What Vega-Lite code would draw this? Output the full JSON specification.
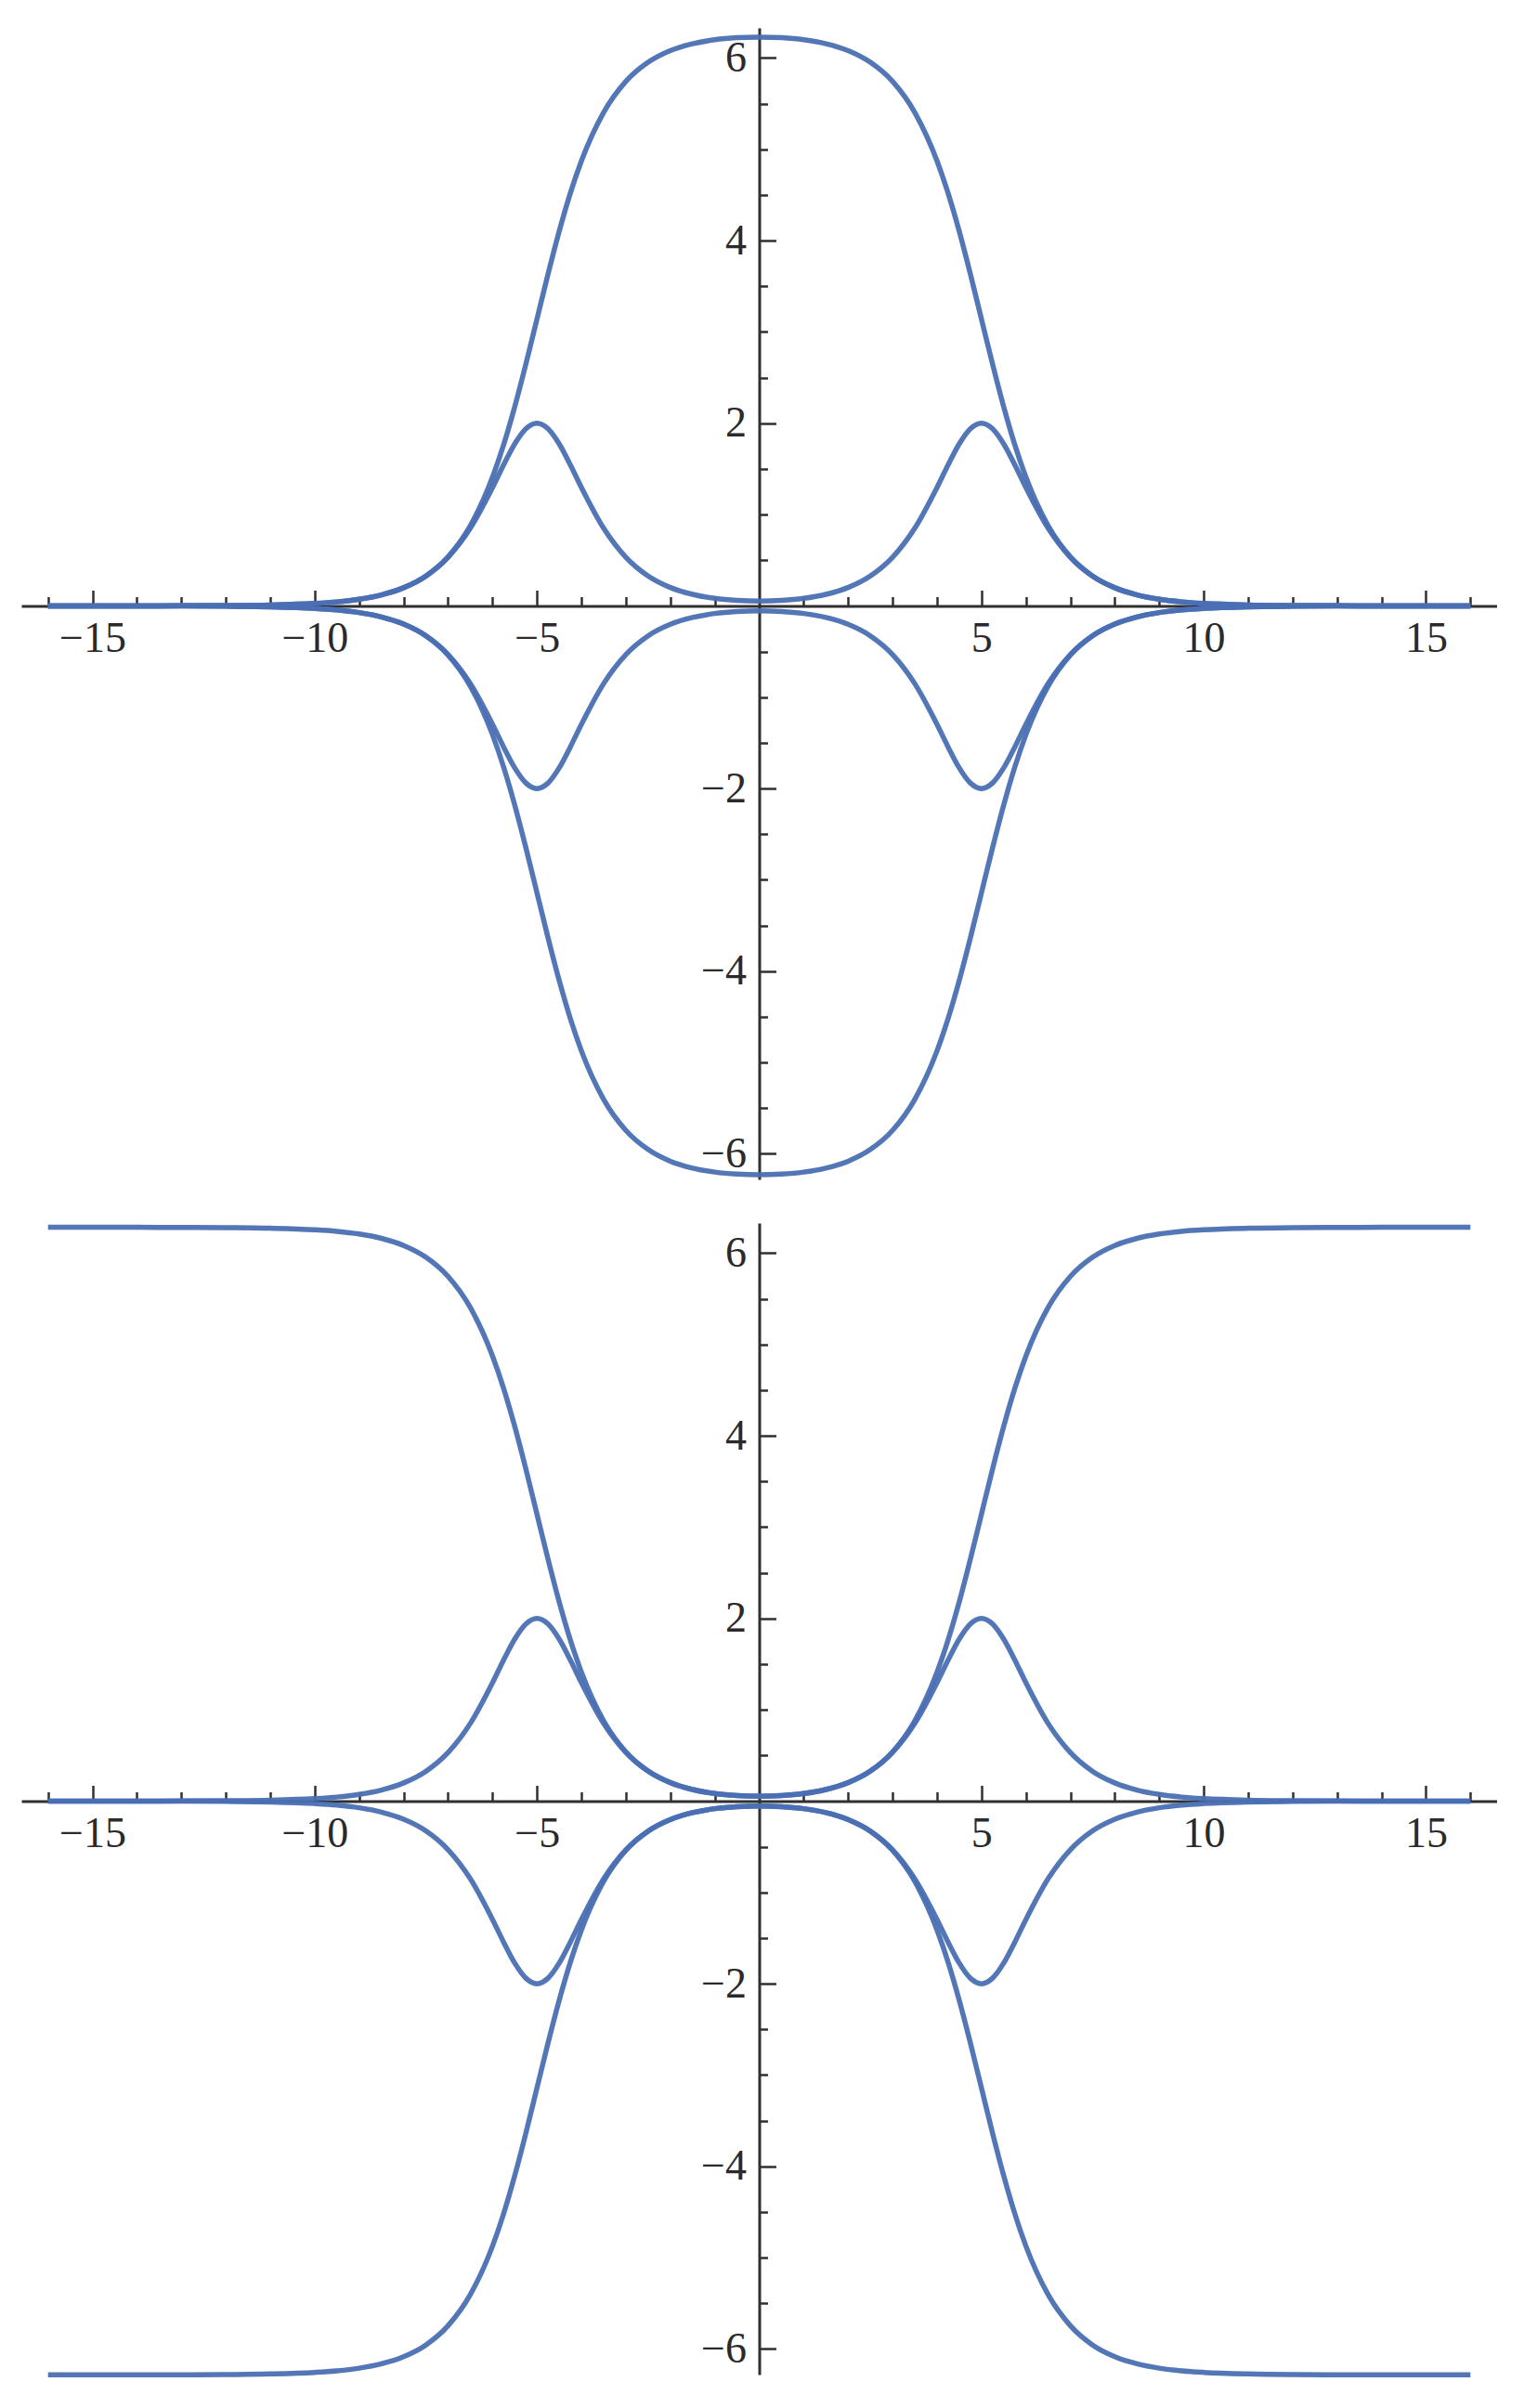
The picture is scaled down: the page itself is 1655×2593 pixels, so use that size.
{
  "$schema": "https://vega.github.io/schema/vega-lite/v6.json",
  "padding": {"left": 23, "top": 28, "right": 0, "bottom": 0},
  "background": "white",
  "spacing": 34,
  "config": {
    "view": {"stroke": null},
    "axis": {
      "grid": false,
      "title": null,
      "domainColor": "#303030",
      "tickColor": "#303030",
      "domainWidth": 3,
      "tickWidth": 2.5,
      "labelFont": "Liberation Serif",
      "labelFontSize": 46,
      "labelColor": "#2a2a2a",
      "labelFlush": false,
      "labelOverlap": false
    }
  },
  "datasets": {
    "top": [
      {"x": -16, "k": 0.0001, "nk": -0.0001, "b": 0.0001, "nb": -0.0001},
      {"x": -15, "k": 0.0002, "nk": -0.0002, "b": 0.0002, "nb": -0.0002},
      {"x": -14, "k": 0.0005, "nk": -0.0005, "b": 0.0005, "nb": -0.0005},
      {"x": -13, "k": 0.001, "nk": -0.001, "b": 0.001, "nb": -0.001},
      {"x": -12, "k": 0.004, "nk": -0.004, "b": 0.004, "nb": -0.004},
      {"x": -11, "k": 0.010, "nk": -0.010, "b": 0.010, "nb": -0.010},
      {"x": -10, "k": 0.027, "nk": -0.027, "b": 0.027, "nb": -0.027},
      {"x": -9.5, "k": 0.044, "nk": -0.044, "b": 0.044, "nb": -0.044},
      {"x": -9, "k": 0.073, "nk": -0.073, "b": 0.073, "nb": -0.073},
      {"x": -8.5, "k": 0.121, "nk": -0.121, "b": 0.121, "nb": -0.121},
      {"x": -8, "k": 0.199, "nk": -0.199, "b": 0.199, "nb": -0.199},
      {"x": -7.5, "k": 0.328, "nk": -0.328, "b": 0.326, "nb": -0.326},
      {"x": -7, "k": 0.538, "nk": -0.538, "b": 0.532, "nb": -0.532},
      {"x": -6.5, "k": 0.878, "nk": -0.878, "b": 0.850, "nb": -0.850},
      {"x": -6, "k": 1.410, "nk": -1.410, "b": 1.296, "nb": -1.296},
      {"x": -5.75, "k": 1.765, "nk": -1.765, "b": 1.545, "nb": -1.545},
      {"x": -5.5, "k": 2.181, "nk": -2.181, "b": 1.774, "nb": -1.774},
      {"x": -5.25, "k": 2.647, "nk": -2.647, "b": 1.939, "nb": -1.939},
      {"x": -5, "k": 3.141, "nk": -3.141, "b": 2.000, "nb": -2.000},
      {"x": -4.75, "k": 3.636, "nk": -3.636, "b": 1.939, "nb": -1.939},
      {"x": -4.5, "k": 4.102, "nk": -4.102, "b": 1.774, "nb": -1.774},
      {"x": -4.25, "k": 4.518, "nk": -4.518, "b": 1.545, "nb": -1.545},
      {"x": -4, "k": 4.873, "nk": -4.873, "b": 1.297, "nb": -1.297},
      {"x": -3.5, "k": 5.404, "nk": -5.404, "b": 0.851, "nb": -0.851},
      {"x": -3, "k": 5.744, "nk": -5.744, "b": 0.533, "nb": -0.533},
      {"x": -2.5, "k": 5.953, "nk": -5.953, "b": 0.328, "nb": -0.328},
      {"x": -2, "k": 6.081, "nk": -6.081, "b": 0.202, "nb": -0.202},
      {"x": -1.5, "k": 6.156, "nk": -6.156, "b": 0.127, "nb": -0.127},
      {"x": -1, "k": 6.200, "nk": -6.200, "b": 0.083, "nb": -0.083},
      {"x": -0.5, "k": 6.222, "nk": -6.222, "b": 0.061, "nb": -0.061},
      {"x": 0, "k": 6.229, "nk": -6.229, "b": 0.054, "nb": -0.054},
      {"x": 0.5, "k": 6.222, "nk": -6.222, "b": 0.061, "nb": -0.061},
      {"x": 1, "k": 6.200, "nk": -6.200, "b": 0.083, "nb": -0.083},
      {"x": 1.5, "k": 6.156, "nk": -6.156, "b": 0.127, "nb": -0.127},
      {"x": 2, "k": 6.081, "nk": -6.081, "b": 0.202, "nb": -0.202},
      {"x": 2.5, "k": 5.953, "nk": -5.953, "b": 0.328, "nb": -0.328},
      {"x": 3, "k": 5.744, "nk": -5.744, "b": 0.533, "nb": -0.533},
      {"x": 3.5, "k": 5.404, "nk": -5.404, "b": 0.851, "nb": -0.851},
      {"x": 4, "k": 4.873, "nk": -4.873, "b": 1.297, "nb": -1.297},
      {"x": 4.25, "k": 4.518, "nk": -4.518, "b": 1.545, "nb": -1.545},
      {"x": 4.5, "k": 4.102, "nk": -4.102, "b": 1.774, "nb": -1.774},
      {"x": 4.75, "k": 3.636, "nk": -3.636, "b": 1.939, "nb": -1.939},
      {"x": 5, "k": 3.141, "nk": -3.141, "b": 2.000, "nb": -2.000},
      {"x": 5.25, "k": 2.647, "nk": -2.647, "b": 1.939, "nb": -1.939},
      {"x": 5.5, "k": 2.181, "nk": -2.181, "b": 1.774, "nb": -1.774},
      {"x": 5.75, "k": 1.765, "nk": -1.765, "b": 1.545, "nb": -1.545},
      {"x": 6, "k": 1.410, "nk": -1.410, "b": 1.296, "nb": -1.296},
      {"x": 6.5, "k": 0.878, "nk": -0.878, "b": 0.850, "nb": -0.850},
      {"x": 7, "k": 0.538, "nk": -0.538, "b": 0.532, "nb": -0.532},
      {"x": 7.5, "k": 0.328, "nk": -0.328, "b": 0.326, "nb": -0.326},
      {"x": 8, "k": 0.199, "nk": -0.199, "b": 0.199, "nb": -0.199},
      {"x": 8.5, "k": 0.121, "nk": -0.121, "b": 0.121, "nb": -0.121},
      {"x": 9, "k": 0.073, "nk": -0.073, "b": 0.073, "nb": -0.073},
      {"x": 9.5, "k": 0.044, "nk": -0.044, "b": 0.044, "nb": -0.044},
      {"x": 10, "k": 0.027, "nk": -0.027, "b": 0.027, "nb": -0.027},
      {"x": 11, "k": 0.010, "nk": -0.010, "b": 0.010, "nb": -0.010},
      {"x": 12, "k": 0.004, "nk": -0.004, "b": 0.004, "nb": -0.004},
      {"x": 13, "k": 0.001, "nk": -0.001, "b": 0.001, "nb": -0.001},
      {"x": 14, "k": 0.0005, "nk": -0.0005, "b": 0.0005, "nb": -0.0005},
      {"x": 15, "k": 0.0002, "nk": -0.0002, "b": 0.0002, "nb": -0.0002},
      {"x": 16, "k": 0.0001, "nk": -0.0001, "b": 0.0001, "nb": -0.0001}
    ],
    "bottom": [
      {"x": -16, "k": 6.283, "nk": -6.283, "b": 0.0001, "nb": -0.0001},
      {"x": -15, "k": 6.283, "nk": -6.283, "b": 0.0002, "nb": -0.0002},
      {"x": -14, "k": 6.283, "nk": -6.283, "b": 0.0005, "nb": -0.0005},
      {"x": -13, "k": 6.282, "nk": -6.282, "b": 0.001, "nb": -0.001},
      {"x": -12, "k": 6.280, "nk": -6.280, "b": 0.004, "nb": -0.004},
      {"x": -11, "k": 6.273, "nk": -6.273, "b": 0.010, "nb": -0.010},
      {"x": -10, "k": 6.256, "nk": -6.256, "b": 0.027, "nb": -0.027},
      {"x": -9.5, "k": 6.239, "nk": -6.239, "b": 0.044, "nb": -0.044},
      {"x": -9, "k": 6.210, "nk": -6.210, "b": 0.073, "nb": -0.073},
      {"x": -8.5, "k": 6.162, "nk": -6.162, "b": 0.121, "nb": -0.121},
      {"x": -8, "k": 6.084, "nk": -6.084, "b": 0.199, "nb": -0.199},
      {"x": -7.5, "k": 5.956, "nk": -5.956, "b": 0.326, "nb": -0.326},
      {"x": -7, "k": 5.745, "nk": -5.745, "b": 0.532, "nb": -0.532},
      {"x": -6.5, "k": 5.405, "nk": -5.405, "b": 0.850, "nb": -0.850},
      {"x": -6, "k": 4.873, "nk": -4.873, "b": 1.296, "nb": -1.296},
      {"x": -5.75, "k": 4.518, "nk": -4.518, "b": 1.545, "nb": -1.545},
      {"x": -5.5, "k": 4.102, "nk": -4.102, "b": 1.774, "nb": -1.774},
      {"x": -5.25, "k": 3.637, "nk": -3.637, "b": 1.939, "nb": -1.939},
      {"x": -5, "k": 3.142, "nk": -3.142, "b": 2.000, "nb": -2.000},
      {"x": -4.75, "k": 2.647, "nk": -2.647, "b": 1.939, "nb": -1.939},
      {"x": -4.5, "k": 2.181, "nk": -2.181, "b": 1.774, "nb": -1.774},
      {"x": -4.25, "k": 1.766, "nk": -1.766, "b": 1.545, "nb": -1.545},
      {"x": -4, "k": 1.411, "nk": -1.411, "b": 1.297, "nb": -1.297},
      {"x": -3.5, "k": 0.879, "nk": -0.879, "b": 0.851, "nb": -0.851},
      {"x": -3, "k": 0.539, "nk": -0.539, "b": 0.533, "nb": -0.533},
      {"x": -2.5, "k": 0.330, "nk": -0.330, "b": 0.328, "nb": -0.328},
      {"x": -2, "k": 0.203, "nk": -0.203, "b": 0.202, "nb": -0.202},
      {"x": -1.5, "k": 0.127, "nk": -0.127, "b": 0.127, "nb": -0.127},
      {"x": -1, "k": 0.083, "nk": -0.083, "b": 0.083, "nb": -0.083},
      {"x": -0.5, "k": 0.061, "nk": -0.061, "b": 0.061, "nb": -0.061},
      {"x": 0, "k": 0.054, "nk": -0.054, "b": 0.054, "nb": -0.054},
      {"x": 0.5, "k": 0.061, "nk": -0.061, "b": 0.061, "nb": -0.061},
      {"x": 1, "k": 0.083, "nk": -0.083, "b": 0.083, "nb": -0.083},
      {"x": 1.5, "k": 0.127, "nk": -0.127, "b": 0.127, "nb": -0.127},
      {"x": 2, "k": 0.203, "nk": -0.203, "b": 0.202, "nb": -0.202},
      {"x": 2.5, "k": 0.330, "nk": -0.330, "b": 0.328, "nb": -0.328},
      {"x": 3, "k": 0.539, "nk": -0.539, "b": 0.533, "nb": -0.533},
      {"x": 3.5, "k": 0.879, "nk": -0.879, "b": 0.851, "nb": -0.851},
      {"x": 4, "k": 1.411, "nk": -1.411, "b": 1.297, "nb": -1.297},
      {"x": 4.25, "k": 1.766, "nk": -1.766, "b": 1.545, "nb": -1.545},
      {"x": 4.5, "k": 2.181, "nk": -2.181, "b": 1.774, "nb": -1.774},
      {"x": 4.75, "k": 2.647, "nk": -2.647, "b": 1.939, "nb": -1.939},
      {"x": 5, "k": 3.142, "nk": -3.142, "b": 2.000, "nb": -2.000},
      {"x": 5.25, "k": 3.637, "nk": -3.637, "b": 1.939, "nb": -1.939},
      {"x": 5.5, "k": 4.102, "nk": -4.102, "b": 1.774, "nb": -1.774},
      {"x": 5.75, "k": 4.518, "nk": -4.518, "b": 1.545, "nb": -1.545},
      {"x": 6, "k": 4.873, "nk": -4.873, "b": 1.296, "nb": -1.296},
      {"x": 6.5, "k": 5.405, "nk": -5.405, "b": 0.850, "nb": -0.850},
      {"x": 7, "k": 5.745, "nk": -5.745, "b": 0.532, "nb": -0.532},
      {"x": 7.5, "k": 5.956, "nk": -5.956, "b": 0.326, "nb": -0.326},
      {"x": 8, "k": 6.084, "nk": -6.084, "b": 0.199, "nb": -0.199},
      {"x": 8.5, "k": 6.162, "nk": -6.162, "b": 0.121, "nb": -0.121},
      {"x": 9, "k": 6.210, "nk": -6.210, "b": 0.073, "nb": -0.073},
      {"x": 9.5, "k": 6.239, "nk": -6.239, "b": 0.044, "nb": -0.044},
      {"x": 10, "k": 6.256, "nk": -6.256, "b": 0.027, "nb": -0.027},
      {"x": 11, "k": 6.273, "nk": -6.273, "b": 0.010, "nb": -0.010},
      {"x": 12, "k": 6.280, "nk": -6.280, "b": 0.004, "nb": -0.004},
      {"x": 13, "k": 6.282, "nk": -6.282, "b": 0.001, "nb": -0.001},
      {"x": 14, "k": 6.283, "nk": -6.283, "b": 0.0005, "nb": -0.0005},
      {"x": 15, "k": 6.283, "nk": -6.283, "b": 0.0002, "nb": -0.0002},
      {"x": 16, "k": 6.283, "nk": -6.283, "b": 0.0001, "nb": -0.0001}
    ]
  },
  "vconcat": [
    {
      "width": 1589,
      "height": 1240,
      "data": {"name": "top"},
      "transform": [{"fold": ["k", "nk", "b", "nb"], "as": ["s", "v"]}],
      "layer": [
        {
          "mark": {"type": "line", "interpolate": "monotone", "color": "#4a6fb3", "strokeWidth": 5.5, "opacity": 0.95},
          "encoding": {
            "x": {"field": "x", "type": "quantitative", "scale": {"domain": [-16.6, 16.6], "nice": false, "zero": false},
              "axis": {"orient": "bottom", "offset": -617.5, "values": [-15, -10, -5, 5, 10, 15], "tickSize": -17, "labels": false, "domain": true}},
            "y": {"field": "v", "type": "quantitative", "scale": {"domain": [-6.28, 6.33], "nice": false, "zero": false},
              "axis": {"orient": "left", "offset": -794.5, "values": [-6, -4, -2, 2, 4, 6], "tickSize": -18, "labels": false, "domain": true}},
            "detail": {"field": "s"}
          }
        },
        {
          "mark": {"type": "point", "opacity": 0, "size": 1},
          "encoding": {
            "x": {"field": "x", "type": "quantitative",
              "axis": {"orient": "bottom", "offset": -617.5, "values": [-16, -14, -13, -12, -11, -9, -8, -7, -6, -4, -3, -2, -1, 1, 2, 3, 4, 6, 7, 8, 9, 11, 12, 13, 14, 16], "tickSize": -10, "labels": false, "domain": false}},
            "y": {"field": "v", "type": "quantitative",
              "axis": {"orient": "left", "offset": -794.5, "values": [-5.5, -5, -4.5, -3.5, -3, -2.5, -1.5, -1, -0.5, 0.5, 1, 1.5, 2.5, 3, 3.5, 4.5, 5, 5.5], "tickSize": -9, "labels": false, "domain": false}}
          }
        },
        {
          "mark": {"type": "point", "opacity": 0, "size": 1},
          "encoding": {
            "x": {"field": "x", "type": "quantitative",
              "axis": {"orient": "bottom", "offset": -617.5, "values": [-15, -10, -5, 5, 10, 15], "ticks": false, "domain": false, "labelPadding": 35, "labelBaseline": "middle"}},
            "y": {"field": "v", "type": "quantitative",
              "axis": {"orient": "left", "offset": -794.5, "values": [-6, -4, -2, 2, 4, 6], "ticks": false, "domain": false, "labelPadding": 14, "labelBaseline": "middle"}}
          }
        }
      ],
      "resolve": {"axis": {"x": "independent", "y": "independent"}}
    },
    {
      "width": 1589,
      "height": 1240,
      "data": {"name": "bottom"},
      "transform": [{"fold": ["k", "nk", "b", "nb"], "as": ["s", "v"]}],
      "layer": [
        {
          "mark": {"type": "line", "interpolate": "monotone", "color": "#4a6fb3", "strokeWidth": 5.5, "opacity": 0.95},
          "encoding": {
            "x": {"field": "x", "type": "quantitative", "scale": {"domain": [-16.6, 16.6], "nice": false, "zero": false},
              "axis": {"orient": "bottom", "offset": -617.5, "values": [-15, -10, -5, 5, 10, 15], "tickSize": -17, "labels": false, "domain": true}},
            "y": {"field": "v", "type": "quantitative", "scale": {"domain": [-6.28, 6.33], "nice": false, "zero": false},
              "axis": {"orient": "left", "offset": -794.5, "values": [-6, -4, -2, 2, 4, 6], "tickSize": -18, "labels": false, "domain": true}},
            "detail": {"field": "s"}
          }
        },
        {
          "mark": {"type": "point", "opacity": 0, "size": 1},
          "encoding": {
            "x": {"field": "x", "type": "quantitative",
              "axis": {"orient": "bottom", "offset": -617.5, "values": [-16, -14, -13, -12, -11, -9, -8, -7, -6, -4, -3, -2, -1, 1, 2, 3, 4, 6, 7, 8, 9, 11, 12, 13, 14, 16], "tickSize": -10, "labels": false, "domain": false}},
            "y": {"field": "v", "type": "quantitative",
              "axis": {"orient": "left", "offset": -794.5, "values": [-5.5, -5, -4.5, -3.5, -3, -2.5, -1.5, -1, -0.5, 0.5, 1, 1.5, 2.5, 3, 3.5, 4.5, 5, 5.5], "tickSize": -9, "labels": false, "domain": false}}
          }
        },
        {
          "mark": {"type": "point", "opacity": 0, "size": 1},
          "encoding": {
            "x": {"field": "x", "type": "quantitative",
              "axis": {"orient": "bottom", "offset": -617.5, "values": [-15, -10, -5, 5, 10, 15], "ticks": false, "domain": false, "labelPadding": 35, "labelBaseline": "middle"}},
            "y": {"field": "v", "type": "quantitative",
              "axis": {"orient": "left", "offset": -794.5, "values": [-6, -4, -2, 2, 4, 6], "ticks": false, "domain": false, "labelPadding": 14, "labelBaseline": "middle"}}
          }
        }
      ],
      "resolve": {"axis": {"x": "independent", "y": "independent"}}
    }
  ]
}
